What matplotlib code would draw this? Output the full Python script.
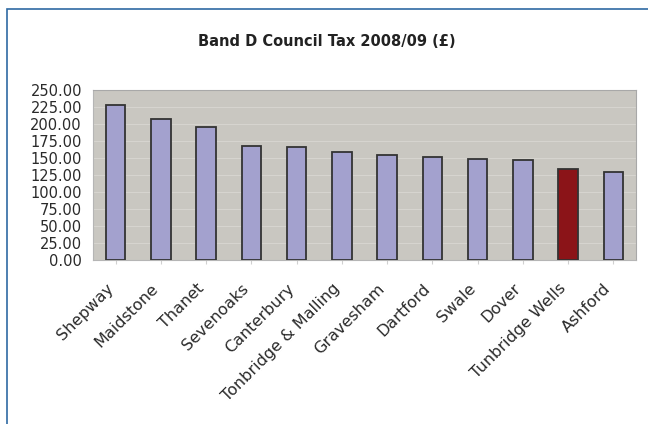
"""
Band D council tax bar chart for Kent districts, 2008/09.
"""

import matplotlib.pyplot as plt
import matplotlib.transforms as mtrans
from matplotlib.patches import Rectangle

districts = ["Shepway", "Maidstone", "Thanet", "Sevenoaks", "Canterbury",
             "Tonbridge & Malling", "Gravesham", "Dartford", "Swale", "Dover",
             "Tunbridge Wells", "Ashford"]
band_d = [227.5, 207.0, 196.0, 167.5, 166.5, 159.5, 154.0, 152.0, 148.0, 147.0, 134.0, 129.5]
highlight = "Tunbridge Wells"

yticks = [0, 25, 50, 75, 100, 125, 150, 175, 200, 225, 250]

plt.rcParams['font.family'] = ['DejaVu Sans']

fig = plt.figure(figsize=(6.48, 4.24), dpi=100)
W, H = 648, 424
ax = fig.add_axes([93 / W, 1 - 260 / H, (636 - 93) / W, (260 - 90) / H])

colors = ['#8B1418' if d == highlight else '#A3A1CE' for d in districts]
x = range(len(districts))
ax.bar(x, band_d, width=0.43, color=colors, edgecolor='#333333', linewidth=1.3, zorder=3)

ax.set_facecolor('#C9C7C1')
ax.set_xlim(-0.5, len(districts) - 0.5)
ax.set_ylim(0, 250)
ax.set_yticks(yticks)
ax.set_yticklabels([f"{v:.2f}" for v in yticks], fontsize=10.5, color='#2a2a2a')
ax.yaxis.grid(True, color='#D6D4CF', linewidth=0.8, zorder=0)
ax.tick_params(axis='y', length=0, pad=8)
ax.tick_params(axis='x', length=3, color='#D0D0D0', pad=4)

ax.set_xticks(list(x))
ax.set_xticklabels(districts, rotation=45, ha='right', rotation_mode='anchor',
                   fontsize=11.5, color='#2a2a2a')
# shift rotated labels down-left, like the original
shift = mtrans.ScaledTranslation(-10 / 100, -11 / 100, fig.dpi_scale_trans)
for lbl in ax.get_xticklabels():
    lbl.set_transform(lbl.get_transform() + shift)

for side in ['top', 'right']:
    ax.spines[side].set_color('#A8A8A8')
for side in ['left', 'bottom']:
    ax.spines[side].set_color('#B5B5B5')

fig.text(327 / W, 1 - 42 / H, "Band D Council Tax 2008/09 (£)", ha='center', va='center',
         fontsize=10.5, fontweight='bold', color='#222222')

# blue frame around the chart
fig.patches.append(Rectangle((7 / W, -0.05), 1.1, 1 - 9 / H + 0.05, transform=fig.transFigure,
                             fill=False, edgecolor='#2F6AA3', linewidth=1.2))

fig.savefig("out.png", dpi=100)
